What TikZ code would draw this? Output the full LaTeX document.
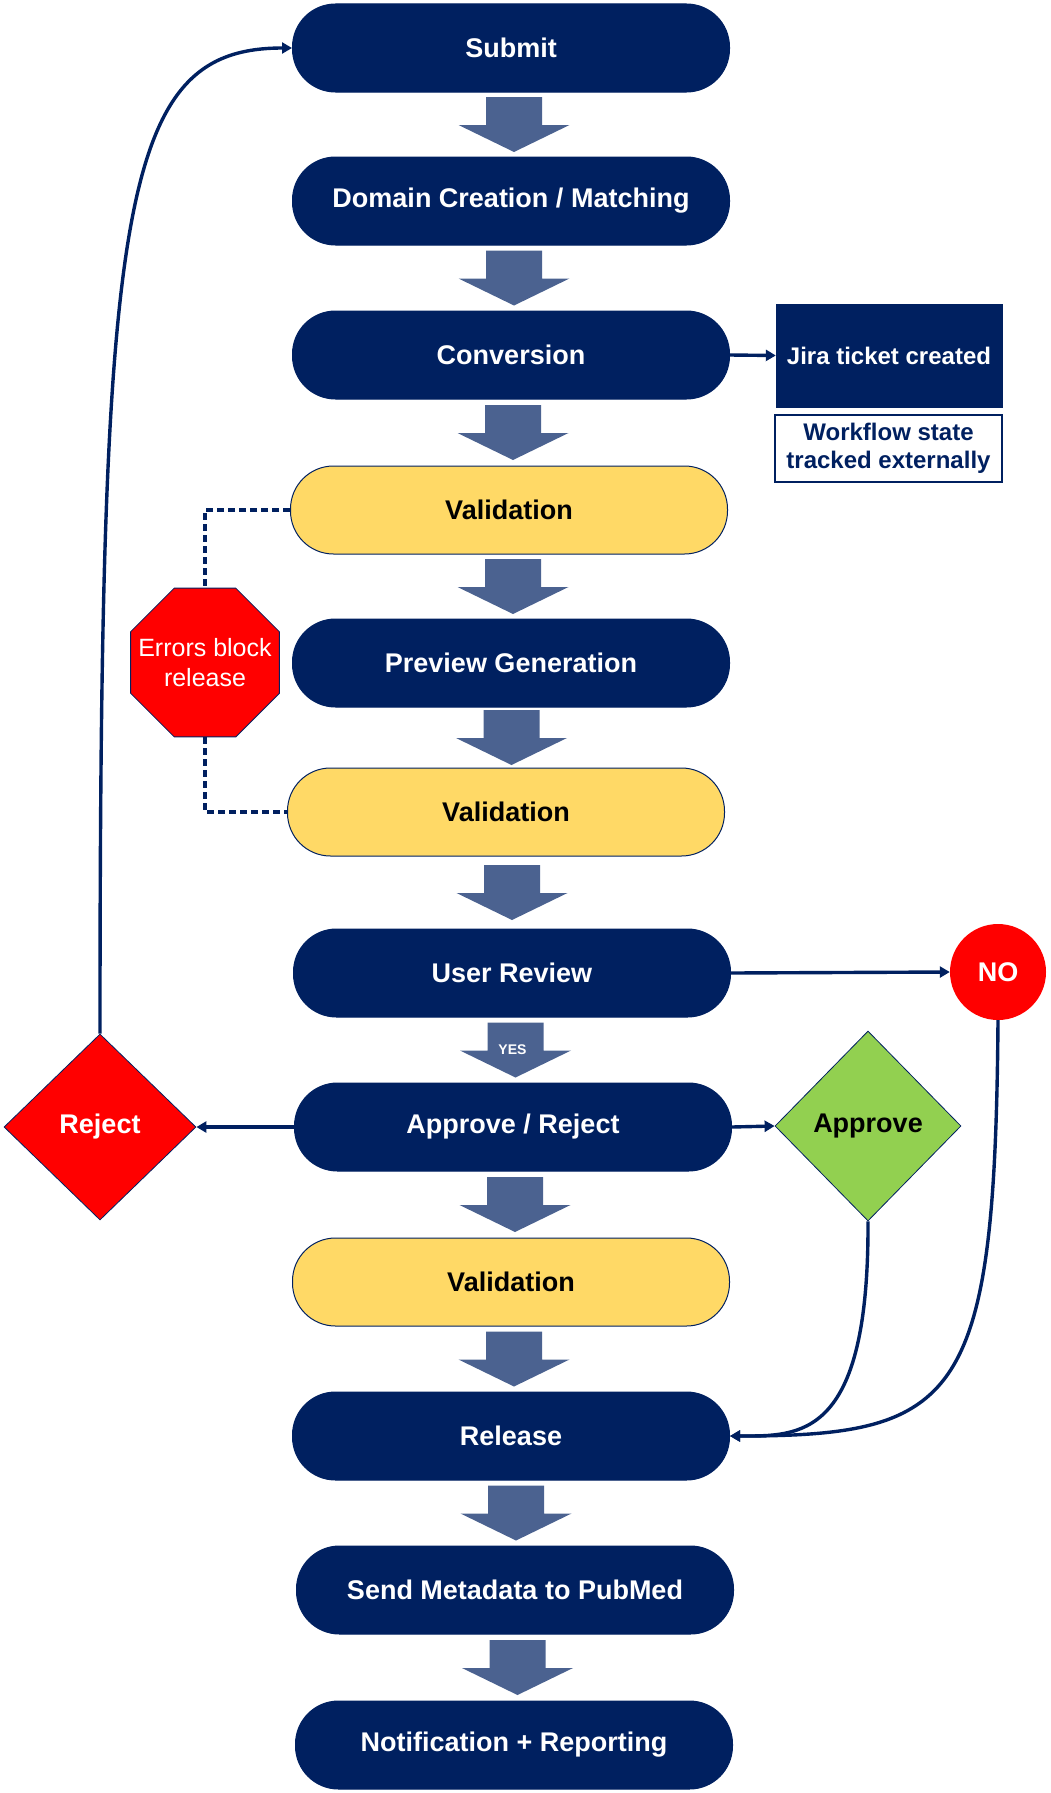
\documentclass[tikz,border=0pt]{standalone}
\usepackage{fontspec}
\setmainfont{Liberation Sans}
\usetikzlibrary{shapes.geometric,calc,arrows.meta}
\definecolor{navy}{HTML}{002060}
\definecolor{arrowfill}{HTML}{4B6290}
\definecolor{gold}{HTML}{FFD966}
\definecolor{okgreen}{HTML}{92D050}
\definecolor{stopred}{HTML}{FF0000}
\begin{document}
\begin{tikzpicture}[x=1pt,y=-1pt,
  boxfont/.style={font=\fontsize{27}{31}\selectfont\bfseries},
  navybox/.style={rectangle, rounded corners=43pt, fill=navy, draw=navy, line width=1pt,
    minimum width=437pt, minimum height=88pt, inner sep=0pt, text=white, boxfont},
  valbox/.style={navybox, fill=gold, text=black},
  conn/.style={draw=navy, line width=3.4pt, -{Triangle[length=10pt,width=11pt]}},
  dashconn/.style={draw=navy, line width=3.4pt, dash pattern=on 7pt off 4pt},
  blockarrow/.pic={\fill[arrowfill] (-28,-27.5)--(28,-27.5)--(28,0.5)--(55.5,0.5)--(0,27.5)--(-55.5,0.5)--(-28,0.5)--cycle;}
]
\useasboundingbox (0,0) rectangle (1050,1793);

% main column
\node[navybox] (sub)   at (511,48)   {Submit};
\node[navybox] (dom)   at (511,201)  {Domain Creation / Matching};
\node[navybox] (conv)  at (511,355)  {Conversion};
\node[valbox]  (val1)  at (509,510)  {Validation};
\node[navybox] (prev)  at (511,663)  {Preview Generation};
\node[valbox]  (val2)  at (506,812)  {Validation};
\node[navybox] (ur)    at (512,973)  {User Review};
\node[navybox] (ar)    at (513,1127) {Approve / Reject};
\node[valbox]  (val3)  at (511,1282) {Validation};
\node[navybox] (rel)   at (511,1436) {Release};
\node[navybox] (send)  at (515,1590) {Send Metadata to PubMed};
\node[navybox] (notif) at (514,1745) {Notification + Reporting};

% block arrows
\foreach \a/\b in {sub/dom,dom/conv,conv/val1,val1/prev,prev/val2,val2/ur,ur/ar,ar/val3,val3/rel,rel/send,send/notif}{
  \path ([xshift=3pt]$(\a.south)!0.5!(\b.north)$) pic {blockarrow};
}
\node[text=white, font=\fontsize{14}{16}\selectfont\bfseries] (yes) at ($(ur.south)!0.5!(ar.north)$) {YES};

% side boxes
\node[rectangle, fill=navy, draw=navy, minimum width=226pt, minimum height=103pt, inner sep=0pt,
  text=white, font=\fontsize{24}{28}\selectfont\bfseries] (jira) at (889,355.5) {Jira ticket created};
\node[rectangle, fill=white, draw=navy, line width=2pt, minimum width=227pt, minimum height=67pt, inner sep=0pt,
  text=navy, align=center, font=\fontsize{24}{28}\selectfont\bfseries] (wf) at (888.5,448.5) {Workflow state\\tracked externally};

\node[regular polygon, regular polygon sides=8, minimum size=161pt, inner sep=0pt, fill=stopred, draw=navy,
  line width=0.8pt] (err) at (205,662.5) {};
\node[text=white, align=center, inner sep=0pt, font=\fontsize{25}{30}\selectfont] (errtxt) at (err.center) {Errors block\\release};

\node[diamond, minimum width=192pt, minimum height=186pt, inner sep=0pt, fill=stopred, draw=navy, line width=0.8pt,
  text=white, boxfont] (rej) at (100,1127) {Reject};
\node[diamond, minimum width=186pt, minimum height=190pt, inner sep=0pt, fill=okgreen, draw=navy, line width=0.8pt,
  text=black, boxfont] (app) at (868,1126) {Approve};
\node[circle, minimum size=96pt, inner sep=0pt, fill=stopred, text=white, boxfont] (no) at (998,972) {NO};

% connectors
\draw[conn] (conv.east) -- (jira.west);
\draw[conn] (ur.east) -- (no.west);
\draw[conn] (ar.west) -- (rej.east);
\draw[conn] (ar.east) -- (app.west);
\draw[conn] (rej.north) .. controls (100,200) and (120,48) .. (sub.west);
\draw[conn] (app.south) .. controls (869,1440) and (800,1436) .. (rel.east);
\draw[conn] (no.south) .. controls (995,1400) and (960,1436) .. (rel.east);
\draw[dashconn] (val1.west) -| (err.north);
\draw[dashconn] (err.south) |- (val2.west);
\end{tikzpicture}
\end{document}
